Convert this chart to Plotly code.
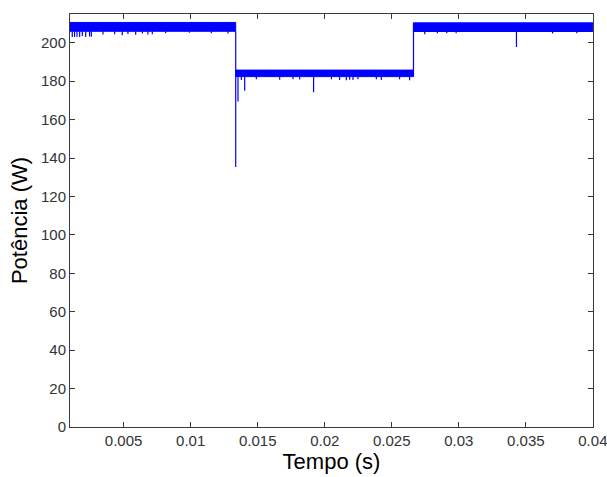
import plotly.graph_objects as go

# Ripple band segments (time in s, power in W)
seg_start = [0.001, 0.01336, 0.02662]
seg_end = [0.01336, 0.02662, 0.04]
seg_upper = [210.6, 185.8, 210.4]
seg_lower = [206.0, 182.4, 205.9]

# Transient at first step (deep dip)
dip_time = 0.01336
dip_value = 135.4

# Downward spikes: times and minimum values
spike_t = [0.00117, 0.00134, 0.00152, 0.00172, 0.00192, 0.00217, 0.00246, 0.00259,
           0.00346, 0.00433, 0.0049, 0.00532, 0.0059, 0.0064, 0.00681, 0.00714,
           0.00813, 0.0099, 0.01154, 0.01278,
           0.01353, 0.01378, 0.01403, 0.0149, 0.01664, 0.01763, 0.01813, 0.01917,
           0.0205, 0.02111, 0.02161, 0.02186, 0.02211, 0.02248, 0.02385, 0.02422,
           0.02558, 0.02633,
           0.02746, 0.0284, 0.0291, 0.0298, 0.0343, 0.0370, 0.0388]
spike_v = [203.0, 203.0, 203.2, 203.0, 203.5, 203.0, 203.3, 203.2,
           204.3, 204.5, 204.0, 204.6, 204.2, 204.8, 204.3, 204.5,
           205.0, 205.2, 205.0, 204.8,
           169.5, 180.6, 175.0, 181.0, 180.8, 181.0, 180.9, 174.3,
           181.0, 180.7, 180.5, 180.8, 180.6, 181.0, 181.0, 180.7,
           181.0, 180.5,
           204.5, 205.0, 205.0, 205.0, 197.8, 204.8, 205.0]

x_ticks = [0.005, 0.01, 0.015, 0.02, 0.025, 0.03, 0.035, 0.04]
x_tick_labels = ["0.005", "0.01", "0.015", "0.02", "0.025", "0.03", "0.035", "0.04"]
y_ticks = [0, 20, 40, 60, 80, 100, 120, 140, 160, 180, 200]

BLUE = "#0000FF"
FONT = "Liberation Sans, Arial, sans-serif"
fig = go.Figure()

# Bands as filled polygons
for s, e, u, l in zip(seg_start, seg_end, seg_upper, seg_lower):
    fig.add_trace(go.Scatter(
        x=[s, e, e, s, s], y=[u, u, l, l, u], mode="lines",
        fill="toself", fillcolor=BLUE, line=dict(color=BLUE, width=1),
        hoverinfo="skip", showlegend=False))

# Step edges, dip and spikes as line segments
lx, ly = [], []
lx += [dip_time, dip_time, None]
ly += [seg_lower[0], dip_value, None]
lx += [seg_start[2], seg_start[2], None]
ly += [seg_lower[1], seg_upper[2], None]
for t, v in zip(spike_t, spike_v):
    base = next(l for s, e, l in zip(seg_start, seg_end, seg_lower) if s <= t <= e)
    lx += [t, t, None]
    ly += [base, v, None]
fig.add_trace(go.Scatter(x=lx, y=ly, mode="lines", line=dict(color=BLUE, width=1.2),
                         hoverinfo="skip", showlegend=False))

axis_common = dict(
    showline=True, linecolor="#3a3a3a", linewidth=1, mirror="ticks",
    ticks="inside", ticklen=5, tickcolor="#3a3a3a", showgrid=False, zeroline=False,
    automargin=False, ticklabeloverflow="allow",
    tickfont=dict(family=FONT, size=15, color="#333333"),
)

fig.update_layout(
    width=607, height=477,
    margin=dict(l=70, r=14, t=14, b=50),
    paper_bgcolor="white", plot_bgcolor="white",
    xaxis=dict(range=[0.001, 0.04001], tickvals=x_ticks, ticktext=x_tick_labels,
               title=dict(text="Tempo (s)", standoff=4,
                          font=dict(family=FONT, size=22, color="black")),
               **axis_common),
    yaxis=dict(range=[0, 215], tickvals=y_ticks,
               title=dict(text="Potência (W)", standoff=7,
                          font=dict(family=FONT, size=22, color="black")),
               **axis_common),
)

fig.write_html("out.html")
